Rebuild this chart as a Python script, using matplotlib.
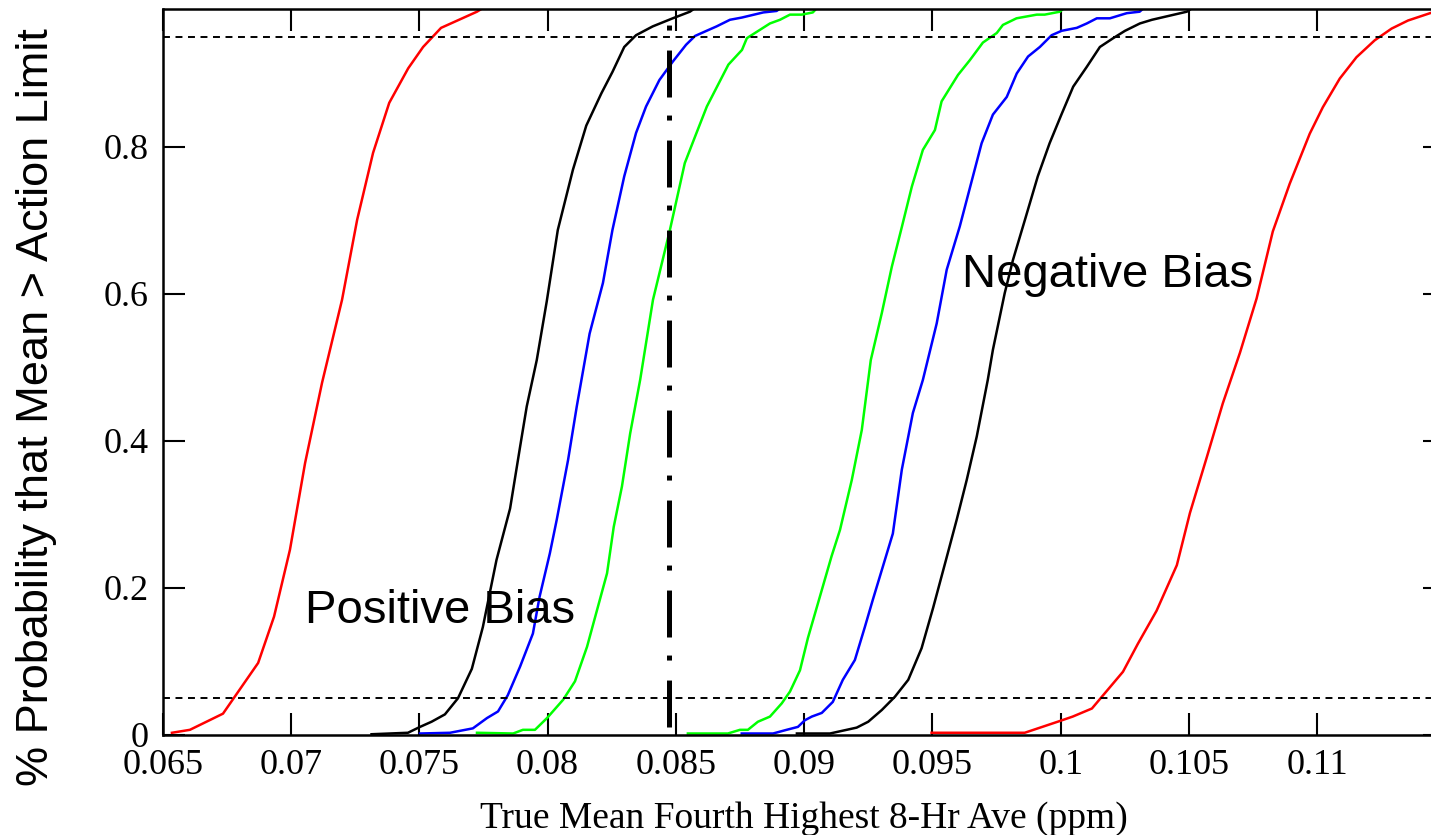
import matplotlib
matplotlib.use("Agg")
import matplotlib.pyplot as plt
from matplotlib.ticker import FormatStrFormatter, MultipleLocator

plt.rcParams['lines.scale_dashes'] = False

# positive bias group
red_pos_x = [0.06536, 0.06606, 0.06735, 0.06872, 0.06934, 0.06996, 0.07055, 0.07121, 0.07199,
             0.07258, 0.07320, 0.07383, 0.07457, 0.07515, 0.07585, 0.07725, 0.0780]
red_pos_y = [0.003, 0.007, 0.029, 0.098, 0.161, 0.252, 0.370, 0.479, 0.592,
             0.701, 0.792, 0.860, 0.907, 0.936, 0.962, 0.984, 1.0]

blk_pos_x = [0.07314, 0.07456, 0.07503, 0.07548, 0.07600, 0.07651, 0.07705, 0.07748, 0.07801,
             0.07854, 0.07893, 0.07919, 0.07958, 0.07997, 0.08040, 0.08099, 0.08151, 0.08210,
             0.08253, 0.08299, 0.08345, 0.08410, 0.08488, 0.08555, 0.0862]
blk_pos_y = [0.001, 0.003, 0.011, 0.018, 0.028, 0.050, 0.090, 0.147, 0.238,
             0.308, 0.392, 0.447, 0.510, 0.590, 0.687, 0.769, 0.829, 0.873,
             0.902, 0.936, 0.952, 0.964, 0.975, 0.984, 1.0]

blu_pos_x = [0.07503, 0.07620, 0.07709, 0.07764, 0.07807, 0.07845, 0.07893, 0.07943, 0.07969,
             0.08009, 0.08036, 0.08080, 0.08114, 0.08164, 0.08216, 0.08253, 0.08299, 0.08345,
             0.08384, 0.08436, 0.08488, 0.08540, 0.08575, 0.08620, 0.08659, 0.08711, 0.08757,
             0.08841, 0.08893, 0.0895]
blu_pos_y = [0.002, 0.003, 0.009, 0.023, 0.032, 0.054, 0.093, 0.138, 0.188,
             0.247, 0.293, 0.374, 0.447, 0.546, 0.615, 0.687, 0.760, 0.819,
             0.855, 0.891, 0.916, 0.939, 0.951, 0.958, 0.964, 0.973, 0.976,
             0.983, 0.985, 1.0]

grn_pos_x = [0.07725, 0.07866, 0.07904, 0.07951, 0.07998, 0.08061, 0.08107, 0.08154, 0.08193,
             0.08232, 0.08258, 0.08290, 0.08322, 0.08361, 0.08411, 0.08477, 0.08535, 0.08575,
             0.08621, 0.08705, 0.08758, 0.08777, 0.08867, 0.08906, 0.08945, 0.08991, 0.09034,
             0.0908]
grn_pos_y = [0.003, 0.002, 0.007, 0.007, 0.023, 0.048, 0.073, 0.120, 0.170,
             0.220, 0.283, 0.338, 0.410, 0.483, 0.592, 0.687, 0.778, 0.814,
             0.855, 0.912, 0.932, 0.948, 0.968, 0.973, 0.980, 0.980, 0.983,
             1.0]

# negative bias group
grn_neg_x = [0.08547, 0.08703, 0.08750, 0.08781, 0.08820, 0.08867, 0.08913, 0.08945, 0.08984,
             0.09015, 0.09054, 0.09107, 0.09140, 0.09186, 0.09225, 0.09260, 0.09303, 0.09342,
             0.09381, 0.09420, 0.09463, 0.09510, 0.09536, 0.09600, 0.09646, 0.09697, 0.09751,
             0.09775, 0.09828, 0.09907, 0.09938, 0.09997, 0.1005]
grn_neg_y = [0.002, 0.002, 0.007, 0.007, 0.018, 0.025, 0.043, 0.059, 0.088,
             0.132, 0.179, 0.243, 0.279, 0.347, 0.415, 0.510, 0.574, 0.637,
             0.691, 0.746, 0.796, 0.823, 0.862, 0.898, 0.918, 0.942, 0.955,
             0.966, 0.975, 0.980, 0.980, 0.984, 1.0]

blu_neg_x = [0.08757, 0.08879, 0.08932, 0.08976, 0.09003, 0.09030, 0.09069, 0.09112, 0.09151,
             0.09198, 0.09237, 0.09268, 0.09307, 0.09346, 0.09381, 0.09424, 0.09463, 0.09517,
             0.09556, 0.09607, 0.09692, 0.09736, 0.09790, 0.09829, 0.09873, 0.09919, 0.09965,
             0.10004, 0.10063, 0.10102, 0.10141, 0.10192, 0.10258, 0.10308, 0.1036]
blu_neg_y = [0.002, 0.002, 0.007, 0.011, 0.020, 0.025, 0.030, 0.045, 0.075,
             0.102, 0.147, 0.184, 0.229, 0.274, 0.361, 0.438, 0.483, 0.560,
             0.633, 0.692, 0.805, 0.844, 0.868, 0.900, 0.923, 0.936, 0.952,
             0.958, 0.962, 0.968, 0.975, 0.975, 0.982, 0.984, 1.0]

blk_neg_x = [0.08972, 0.09101, 0.09205, 0.09250, 0.09303, 0.09354, 0.09406, 0.09458, 0.09503,
             0.09553, 0.09595, 0.09634, 0.09673, 0.09716, 0.09736, 0.09782, 0.09814, 0.09861,
             0.09911, 0.09957, 0.10003, 0.10049, 0.10102, 0.10153, 0.10205, 0.10251, 0.10309,
             0.10356, 0.10492, 0.1056]
blk_neg_y = [0.002, 0.002, 0.010, 0.018, 0.034, 0.052, 0.075, 0.118, 0.173,
             0.238, 0.293, 0.347, 0.406, 0.483, 0.524, 0.601, 0.646, 0.701,
             0.760, 0.805, 0.844, 0.882, 0.909, 0.936, 0.948, 0.958, 0.968,
             0.973, 0.984, 1.0]

red_neg_x = [0.09497, 0.09860, 0.09997, 0.10047, 0.10122, 0.10243, 0.10301, 0.10374, 0.10453,
             0.10504, 0.10569, 0.10632, 0.10699, 0.10764, 0.10827, 0.10893, 0.10971, 0.11022,
             0.11088, 0.11153, 0.11224, 0.11290, 0.11354, 0.11440, 0.1152]
red_neg_y = [0.003, 0.003, 0.019, 0.025, 0.036, 0.086, 0.124, 0.169, 0.231,
             0.302, 0.377, 0.451, 0.520, 0.594, 0.685, 0.750, 0.818, 0.854,
             0.893, 0.922, 0.945, 0.961, 0.972, 0.982, 0.99]

action_limit = 0.08473
limits = [0.05, 0.95]
xticks = [0.065, 0.07, 0.075, 0.08, 0.085, 0.09, 0.095, 0.1, 0.105, 0.11]

fig = plt.figure(figsize=(14.31, 8.35), dpi=100)
ax = fig.add_axes([0.1137, 0.1198, 0.8964, 0.8691])

lw = 1.8
ax.plot(red_pos_x, red_pos_y, color='#ff0000', lw=lw)
ax.plot(blk_pos_x, blk_pos_y, color='black', lw=lw)
ax.plot(blu_pos_x, blu_pos_y, color='#0000ff', lw=lw)
ax.plot(grn_pos_x, grn_pos_y, color='#00ff00', lw=lw)
ax.plot(grn_neg_x, grn_neg_y, color='#00ff00', lw=lw)
ax.plot(blu_neg_x, blu_neg_y, color='#0000ff', lw=lw)
ax.plot(blk_neg_x, blk_neg_y, color='black', lw=lw)
ax.plot(red_neg_x, red_neg_y, color='#ff0000', lw=lw)

for y in limits:
    ax.axhline(y, color='black', lw=1.4, linestyle=(0, (5, 4)))

ax.plot([action_limit, action_limit], [0.011, 0.966], color='black', lw=3.6,
        linestyle=(0, (33.8, 14.4, 3.6, 13)))

ax.text(0.07055, 0.152, 'Positive Bias', fontsize=34, family='Liberation Sans', va='baseline')
ax.text(0.09614, 0.6095, 'Negative Bias', fontsize=34, family='Liberation Sans', va='baseline')

ax.set_xlim(0.065, 0.115)
ax.set_ylim(0, 0.9873)
ax.set_xticks(xticks)
ax.yaxis.set_major_locator(MultipleLocator(0.2))
ax.xaxis.set_major_formatter(FormatStrFormatter('%g'))
ax.yaxis.set_major_formatter(FormatStrFormatter('%g'))

ax.tick_params(direction='in', length=16, width=1.5, top=True, right=True,
               labelsize=26, pad=10)
for lab in ax.get_xticklabels() + ax.get_yticklabels():
    lab.set_family('Liberation Serif')
for s in ax.spines.values():
    s.set_linewidth(1.8)

ax.set_xlabel('True Mean Fourth Highest 8-Hr Ave (ppm)', fontsize=27,
              family='Liberation Serif', labelpad=14)
ax.set_ylabel('% Probability that Mean > Action Limit', fontsize=32.5,
              family='Liberation Sans')
ax.yaxis.label.set_va('center')
ax.yaxis.set_label_coords(-0.098, 0.452)

fig.savefig('out.png', dpi=100)
